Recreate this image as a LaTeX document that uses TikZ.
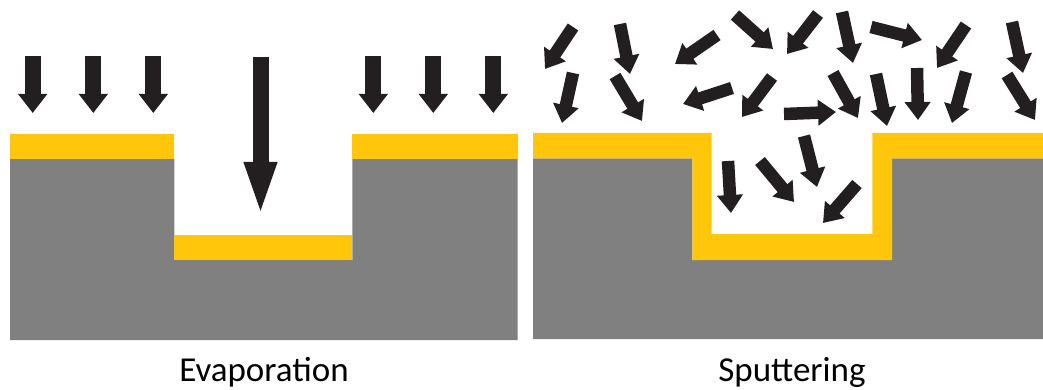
\documentclass[tikz,border=0pt]{standalone}
\usepackage{fontspec}
\setmainfont{Carlito}
\usetikzlibrary{arrows.meta}
\definecolor{film}{RGB}{255,198,11}
\definecolor{subst}{RGB}{128,128,128}
\definecolor{ink}{RGB}{35,31,32}
\tikzset{
  film/.style={fill=film, draw=none},
  subst/.style={fill=subst, draw=none},
  evap/.style={draw=ink, line width=15.7pt, line cap=butt, -{Triangle[width=28pt,length=19pt]}},
  bigevap/.style={draw=ink, line width=16pt, line cap=butt, -{Triangle[width=29pt,length=55pt]}},
  sput/.style={draw=ink, line width=12.5pt, line cap=butt, -{Triangle[width=25pt,length=18pt]}},
  caption/.style={font=\fontsize{35}{38}\selectfont, anchor=base, inner sep=0pt}
}
\begin{document}
\begin{tikzpicture}[x=1pt, y=-1pt]
\useasboundingbox (0,0) rectangle (1043,390);
% ---- Evaporation panel ----
\fill[subst] (10,159) -- (174.3,159) -- (174.3,260) -- (352.3,260) -- (352.3,159) -- (517.5,159) -- (517.5,340) -- (10,340) -- cycle;
\fill[film] (10,134) rectangle (174.3,159);
\fill[film] (352.3,134) rectangle (517.5,159);
\fill[film] (174.3,235) rectangle (352.3,260);
\foreach \x in {32.7,93.3,153.3,373.3,433.3,493.3}
  \draw[evap] (\x,56) -- (\x,113);
\draw[bigevap] (260.5,57) -- (260.5,217);
\node[caption] (evapl) at (264,381) {Evaporation};
% ---- Sputtering panel ----
\fill[subst] (533,158.3) -- (692.3,158.3) -- (692.3,260) -- (892,260) -- (892,158.3) -- (1043,158.3) -- (1043,339) -- (533,339) -- cycle;
\fill[film] (533,133) -- (711.7,133) -- (711.7,234) -- (872.3,234) -- (872.3,133) -- (1043,133) -- (1043,158.3) -- (892,158.3) -- (892,260) -- (692.3,260) -- (692.3,158.3) -- (533,158.3) -- cycle;
\draw[sput] (573,27) -- (545,69);
\draw[sput] (620,24) -- (630,74);
\draw[sput] (573,73) -- (562,123);
\draw[sput] (615,76) -- (642,121);
\draw[sput] (717,35) -- (675,64);
\draw[sput] (735,15) -- (773,49);
\draw[sput] (732,88) -- (683,104);
\draw[sput] (772,77) -- (742,117);
\draw[sput] (818,14) -- (787,54);
\draw[sput] (842,12) -- (853,63);
\draw[sput] (784,114) -- (836,112);
\draw[sput] (833,73) -- (858,118);
\draw[sput] (871,27) -- (922,40);
\draw[sput] (966,25) -- (937,68);
\draw[sput] (1012,22) -- (1023,73);
\draw[sput] (876,74) -- (887,126);
\draw[sput] (917,68) -- (918,120);
\draw[sput] (966,72) -- (952,123);
\draw[sput] (1007,75) -- (1035,120);
\draw[sput] (728,161) -- (731,213);
\draw[sput] (760,161) -- (794,202);
\draw[sput] (804,136) -- (817,187);
\draw[sput] (857,184) -- (823,223);
\node[caption] (sputl) at (792,381) {Sputtering};
\end{tikzpicture}
\end{document}
